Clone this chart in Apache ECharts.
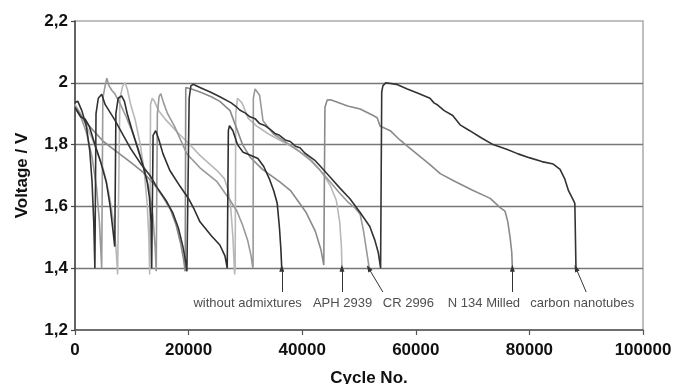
<!DOCTYPE html>
<html><head><meta charset="utf-8">
<script src="https://cdn.jsdelivr.net/npm/echarts@6/dist/echarts.min.js"></script>
<style>html,body{margin:0;padding:0;background:#fff}#c{width:678px;height:384px}</style>
</head><body><div id="c"></div>
<script>
// ---- data: [cycle No., voltage] ----
var withoutAdmixtures = [
[0,1.92],[1000,1.89],[1800,1.882],[2500,1.86],[3500,1.80],[4500,1.745],[5500,1.68],[6200,1.60],[6700,1.52],[7000,1.47],
[7100,1.47],[7200,1.90],[7600,1.95],[8200,1.958],[8700,1.94],[9200,1.90],[10000,1.85],[11000,1.79],[12000,1.73],[12700,1.68],[13100,1.63],[13400,1.55],[13500,1.40],
[13700,1.40],[13750,1.83],[14200,1.845],[14700,1.82],[15500,1.77],[16700,1.716],[18500,1.665],[20000,1.625],[21000,1.59],[22000,1.55],[24000,1.505],[25500,1.475],[26400,1.44],[26800,1.40],
[26900,1.40],[27000,1.845],[27200,1.861],[27800,1.845],[28600,1.80],[29600,1.775],[31000,1.765],[32200,1.755],[33200,1.73],[34200,1.69],[35000,1.65],[35600,1.61],[36000,1.53],[36250,1.46],[36400,1.40]
];
var aph2939 = [
[0,1.93],[1000,1.90],[2000,1.86],[3000,1.82],[4000,1.77],[5000,1.72],[6000,1.64],[6800,1.55],[7200,1.47],[7500,1.38],
[7700,1.38],[7900,1.95],[8400,1.99],[8800,2.0],[9200,1.98],[9800,1.93],[10600,1.88],[11500,1.80],[12200,1.71],[12700,1.61],[13000,1.50],[13150,1.38],
[13250,1.38],[13300,1.93],[13600,1.95],[14000,1.94],[14700,1.91],[16000,1.88],[18000,1.84],[19700,1.81],[22000,1.765],[25000,1.716],[26300,1.69],[27000,1.65],[27400,1.60],[27800,1.50],[28100,1.38],
[28200,1.40],[28300,1.90],[28600,1.95],[28900,1.955],[29400,1.935],[30500,1.885],[32000,1.86],[34000,1.835],[36000,1.815],[38000,1.795],[41400,1.755],[43000,1.72],[44200,1.69],[45000,1.665],[46000,1.62],[46600,1.55],[46900,1.47],[47000,1.40]
];
var cr2996 = [
[0,1.92],[1000,1.89],[2000,1.84],[3000,1.76],[3800,1.66],[4300,1.55],[4700,1.40],
[4800,1.40],[4900,1.95],[5300,1.99],[5600,2.015],[6000,1.99],[6500,1.975],[7000,1.965],[8000,1.93],[9000,1.89],[10000,1.845],[11000,1.795],[12000,1.735],[13000,1.66],[13700,1.57],[14100,1.47],[14300,1.39],
[14450,1.39],[14500,1.90],[14800,1.955],[15100,1.965],[15600,1.935],[16300,1.90],[17500,1.86],[19700,1.77],[22000,1.725],[25000,1.68],[27300,1.62],[28500,1.585],[29500,1.54],[30400,1.49],[31000,1.44],[31300,1.40],
[31350,1.41],[31400,1.95],[31700,1.98],[32000,1.985],[32500,1.96],[33100,1.877],[34900,1.835],[36500,1.815],[39000,1.785],[41400,1.75],[43000,1.72],[44900,1.68],[46500,1.645],[48000,1.615],[49300,1.595],[50200,1.575],[50800,1.52],[51300,1.46],[51800,1.40]
];
var n134Milled = [
[0,1.925],[1500,1.88],[3000,1.85],[5000,1.81],[7500,1.775],[10000,1.74],[12000,1.71],[14000,1.67],[15500,1.63],[16800,1.59],[17800,1.54],[18600,1.48],[19100,1.43],[19400,1.39],
[19450,1.39],[19500,1.985],[20500,1.98],[22000,1.97],[24000,1.955],[25500,1.94],[27300,1.91],[28500,1.85],[29500,1.80],[30800,1.76],[33000,1.72],[36000,1.68],[38000,1.65],[40700,1.58],[42300,1.52],[43300,1.46],[43800,1.41],
[43900,1.41],[44000,1.92],[44400,1.944],[45000,1.945],[48000,1.925],[50200,1.915],[52500,1.894],[53200,1.887],[53700,1.86],[55500,1.845],[57200,1.815],[58500,1.795],[60500,1.765],[62500,1.735],[64300,1.706],[67000,1.68],[70000,1.652],[73100,1.626],[74800,1.597],[75700,1.585],[76200,1.55],[76600,1.50],[76900,1.45],[77000,1.40]
];
var carbonNanotubes = [
[0,1.936],[500,1.94],[1200,1.91],[2000,1.86],[2600,1.78],[3000,1.68],[3300,1.55],[3500,1.40],
[3600,1.40],[3700,1.90],[4100,1.95],[4700,1.963],[5300,1.93],[7000,1.88],[8500,1.83],[9700,1.79],[11500,1.74],[13200,1.70],[14500,1.66],[16000,1.62],[17200,1.58],[18200,1.53],[19000,1.47],[19500,1.42],[19700,1.39],
[19900,1.39],[20100,1.95],[20400,1.99],[20800,1.995],[22000,1.985],[23800,1.97],[25500,1.955],[27500,1.935],[28300,1.924],[29000,1.912],[30000,1.902],[30800,1.89],[31700,1.884],[32500,1.868],[33400,1.862],[34300,1.85],[35200,1.836],[36000,1.83],[37000,1.815],[37900,1.81],[38800,1.795],[39600,1.79],[40500,1.772],[41400,1.76],[42300,1.748],[43200,1.73],[44900,1.695],[46600,1.66],[48400,1.625],[50200,1.58],[51900,1.535],[52800,1.49],[53400,1.45],[53800,1.40],
[53900,1.40],[54000,1.97],[54200,1.99],[54700,2.0],[56600,1.995],[58500,1.98],[60500,1.965],[62500,1.95],[63200,1.935],[63700,1.93],[65000,1.91],[66500,1.894],[67800,1.864],[69500,1.845],[71500,1.822],[73600,1.80],[76000,1.785],[78000,1.77],[80100,1.757],[82200,1.745],[84200,1.737],[85400,1.72],[86200,1.69],[86900,1.65],[87600,1.625],[88000,1.61],[88200,1.40]
];
// annotations
var annoNames = ['without admixtures','APH 2939','CR 2996','N 134 Milled','carbon nanotubes'];
var annoTextX = [30400, 47100, 58700, 72000, 89300];
var annoTextY = 1.287;
var arrowTailX = [36400, 47000, 54200, 77000, 90000];
var arrowHeadX = [36400, 47000, 51700, 77000, 88200];
var arrowTailY = 1.323;
var arrowHeadY = 1.40;

var FONT = 'Liberation Sans, Arial, sans-serif';
var chart = echarts.init(document.getElementById('c'), null, {renderer:'canvas'});
function mk(name, data, color){
  return {name:name, type:'line', data:data, showSymbol:false, symbol:'none', smooth:false,
    lineStyle:{color:color, width:1.6}, silent:true, animation:false};
}
var annoData = annoNames.map(function(n,i){return {name:n, value:[annoTextX[i], annoTextY]};});
var arrows = annoNames.map(function(n,i){
  return [{coord:[arrowTailX[i], arrowTailY], symbol:'none'},{coord:[arrowHeadX[i], arrowHeadY], symbol:'triangle'}];
});
chart.setOption({
  animation:false,
  grid:{left:75, right:35, top:21, bottom:54, outerBoundsMode:'none', containLabel:false,
    show:true, borderColor:'#aaa', borderWidth:1.5, backgroundColor:'transparent'},
  xAxis:{type:'value', min:0, max:100000, interval:20000,
    name:'Cycle No.', nameLocation:'middle', nameGap:40,
    nameTextStyle:{fontFamily:FONT, fontSize:17, fontWeight:'bold', color:'#111', padding:[0,0,0,20]},
    axisLine:{show:true, lineStyle:{color:'#555', width:1.5}},
    axisTick:{show:true, length:5, lineStyle:{color:'#555', width:1.2}},
    axisLabel:{fontFamily:FONT, fontSize:17, fontWeight:'bold', color:'#111', margin:12,
      formatter:function(v){return String(Math.round(v));}},
    splitLine:{show:false}},
  yAxis:{type:'value', min:1.2, max:2.2, interval:0.2,
    name:'Voltage / V', nameLocation:'middle', nameGap:44, nameRotate:90,
    nameTextStyle:{fontFamily:FONT, fontSize:17, fontWeight:'bold', color:'#111'},
    axisLine:{show:true, lineStyle:{color:'#444', width:1.5}},
    axisTick:{show:true, length:4, lineStyle:{color:'#444', width:1.2}},
    axisLabel:{fontFamily:FONT, fontSize:17, fontWeight:'bold', color:'#111', margin:7,
      formatter:function(v){return String(+(+v).toFixed(1)).replace('.', ',');}},
    splitLine:{show:true, showMinLine:false, showMaxLine:false, lineStyle:{color:'#777', width:1.3}}},
  series:[
    mk('APH 2939', aph2939, '#b8b8b8'),
    mk('N 134 Milled', n134Milled, '#8a8a8a'),
    mk('CR 2996', cr2996, '#999999'),
    mk('without admixtures', withoutAdmixtures, '#2e2e2e'),
    mk('carbon nanotubes', carbonNanotubes, '#333333'),
    {type:'scatter', data:annoData, symbolSize:0, silent:true, animation:false,
      label:{show:true, position:'inside', formatter:function(p){return p.name;},
        fontFamily:FONT, fontSize:13, color:'#222'},
      markLine:{silent:true, animation:false, symbolSize:[5,7],
        lineStyle:{color:'#333', width:1, type:'solid'},
        label:{show:false}, emphasis:{disabled:true}, data:arrows}}
  ]
});
</script></body></html>
